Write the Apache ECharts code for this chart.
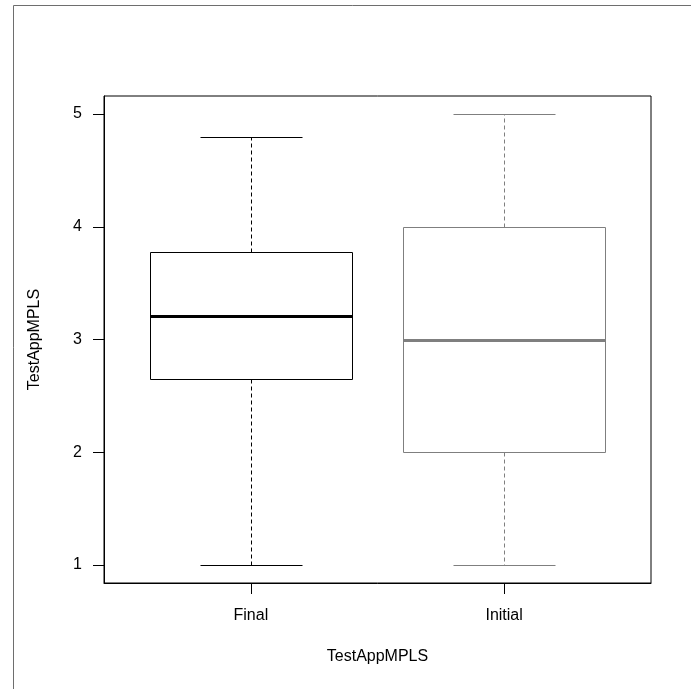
<!DOCTYPE html>
<html>
<head>
<meta charset="utf-8">
<script src="https://cdn.jsdelivr.net/npm/echarts@6/dist/echarts.min.js"></script>
<style>
html,body{margin:0;padding:0;background:#fff;}
#chart{width:691px;height:689px;}
</style>
</head>
<body>
<div id="chart"></div>
<script>
// Data
const categories = ['Final', 'Initial'];
const mins    = [1.00, 1.00];
const q1s     = [2.65, 2.00];
const medians = [3.21, 3.00];
const q3s     = [3.78, 4.00];
const maxs    = [4.80, 5.00];
const yTicks  = [1, 2, 3, 4, 5];
const xTicks  = [1, 2];
const axisTitle = 'TestAppMPLS';

// Styles
const boxColors = ['#000000', '#7f7f7f'];
const FONT = '"Liberation Sans", Arial, sans-serif';

const seriesData = categories.map((c, i) => [i + 1, mins[i], q1s[i], medians[i], q3s[i], maxs[i]]);

function crisp(v) { return Math.round(v) + 0.5; }

function renderItem(params, api) {
  const idx = params.dataIndex;
  const color = boxColors[idx];
  const xv = api.value(0);
  const cx = crisp(api.coord([xv, 0])[0]);
  const yMin = crisp(api.coord([xv, api.value(1)])[1]);
  const yQ1 = crisp(api.coord([xv, api.value(2)])[1]);
  const yMed = Math.round(api.coord([xv, api.value(3)])[1]);
  const yQ3 = crisp(api.coord([xv, api.value(4)])[1]);
  const yMax = crisp(api.coord([xv, api.value(5)])[1]);
  const halfBox = Math.round(api.size([0.4, 0])[0]);
  const halfCap = Math.round(api.size([0.2, 0])[0]);
  const lineStyle = { stroke: color, lineWidth: 1, fill: null };
  const dashStyle = { stroke: color, lineWidth: 1, lineDash: [4, 3], fill: null };
  return {
    type: 'group',
    children: [
      { type: 'line', shape: { x1: cx, y1: yQ1, x2: cx, y2: yMin }, style: dashStyle },
      { type: 'line', shape: { x1: cx, y1: yQ3, x2: cx, y2: yMax }, style: dashStyle },
      { type: 'line', shape: { x1: cx - halfCap, y1: yMin, x2: cx + halfCap, y2: yMin }, style: lineStyle },
      { type: 'line', shape: { x1: cx - halfCap, y1: yMax, x2: cx + halfCap, y2: yMax }, style: lineStyle },
      { type: 'rect', shape: { x: cx - halfBox, y: yQ3, width: 2 * halfBox, height: yQ1 - yQ3 }, style: { stroke: color, lineWidth: 1, fill: 'none' } },
      { type: 'line', shape: { x1: cx - halfBox, y1: yMed + 0.5, x2: cx + halfBox, y2: yMed + 0.5 }, style: { stroke: color, lineWidth: 3 } }
    ]
  };
}

const chart = echarts.init(document.getElementById('chart'), null, { renderer: 'canvas' });
chart.setOption({
  animation: false,
  backgroundColor: '#ffffff',
  textStyle: { fontFamily: FONT },
  graphic: [
    { type: 'polyline', silent: true,
      shape: { points: [[13.5, 700], [13.5, 5.5], [700, 5.5]] },
      style: { fill: 'none', stroke: '#6e6e6e', lineWidth: 1 } }
  ],
  grid: {
    left: 104, top: 96, right: 40, bottom: 106,
    show: true, borderColor: '#000', borderWidth: 1, backgroundColor: 'transparent',
    containLabel: false
  },
  xAxis: {
    type: 'value',
    min: 0.42, max: 2.58,
    splitLine: { show: false },
    axisLine: { show: true, onZero: false, lineStyle: { color: '#000', width: 1 } },
    axisTick: { show: true, customValues: xTicks, length: 11, inside: false, lineStyle: { color: '#000', width: 1 } },
    axisLabel: {
      show: true, customValues: xTicks, margin: 25,
      formatter: v => categories[Math.round(v) - 1] || '',
      color: '#000', fontSize: 16, fontFamily: FONT
    },
    name: axisTitle, nameLocation: 'middle', nameGap: 66,
    nameTextStyle: { color: '#000', fontSize: 16, fontFamily: FONT }
  },
  yAxis: {
    type: 'value',
    min: 0.84, max: 5.16,
    splitLine: { show: false },
    axisLine: { show: true, onZero: false, lineStyle: { color: '#000', width: 1 } },
    axisTick: { show: true, customValues: yTicks, length: 11, inside: false, lineStyle: { color: '#000', width: 1 } },
    axisLabel: {
      show: true, customValues: yTicks, margin: 22,
      color: '#000', fontSize: 16, fontFamily: FONT
    },
    name: axisTitle, nameLocation: 'middle', nameGap: 61, nameRotate: 90,
    nameTextStyle: { color: '#000', fontSize: 16, fontFamily: FONT }
  },
  series: [{
    type: 'custom',
    renderItem: renderItem,
    encode: { x: 0, y: [1, 2, 3, 4, 5] },
    data: seriesData,
    clip: false
  }]
});
</script>
</body>
</html>
